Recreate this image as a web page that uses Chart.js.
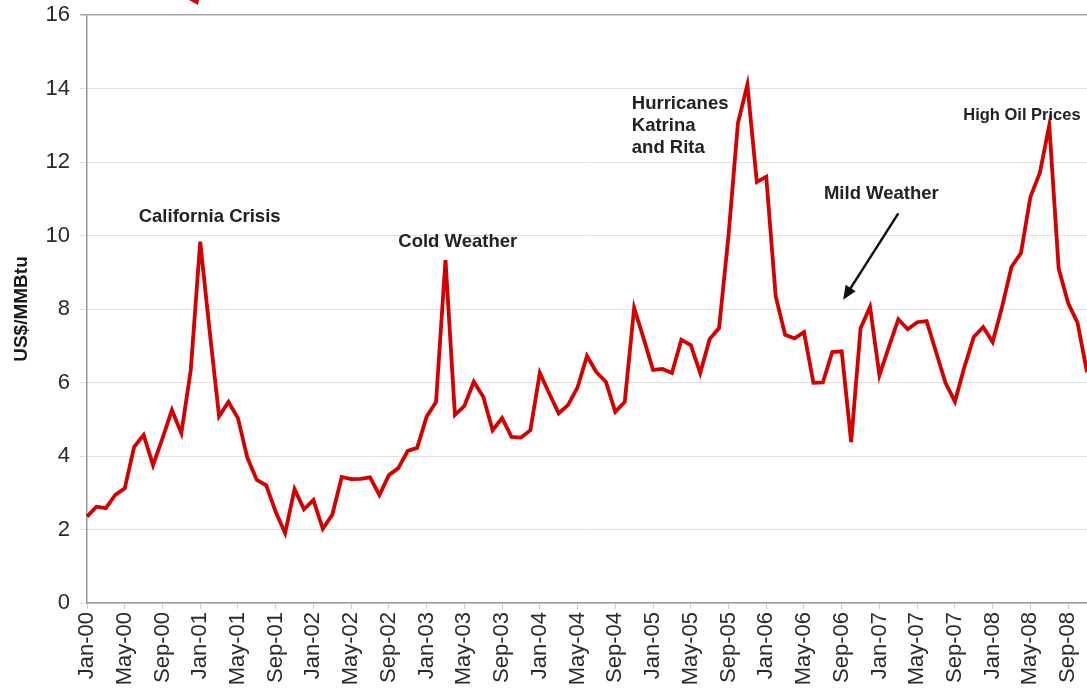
<!DOCTYPE html>
<html>
<head>
<meta charset="utf-8">
<script src="https://cdn.jsdelivr.net/npm/chart.js@4/dist/chart.umd.min.js"></script>
<style>
  html, body { margin: 0; padding: 0; background: #ffffff; }
  #wrap { width: 1087px; height: 696px; position: relative; }
</style>
</head>
<body>
<div id="wrap"><canvas id="chart"></canvas></div>
<script>
// Monthly natural gas price, Jan 2000 – Nov 2008 (US$/MMBtu)
const monthNames = ['Jan', 'Feb', 'Mar', 'Apr', 'May', 'Jun', 'Jul', 'Aug', 'Sep', 'Oct', 'Nov', 'Dec'];
const years = ['00', '01', '02', '03', '04', '05', '06', '07', '08'];

const price2000 = [2.35, 2.62, 2.58, 2.94, 3.12, 4.25, 4.57, 3.75, 4.48, 5.25, 4.62, 6.34];
const price2001 = [9.83, 7.40, 5.08, 5.47, 5.03, 3.95, 3.35, 3.20, 2.48, 1.90, 3.10, 2.55];
const price2002 = [2.80, 2.02, 2.40, 3.43, 3.37, 3.38, 3.42, 2.94, 3.48, 3.67, 4.14, 4.22];
const price2003 = [5.07, 5.47, 9.33, 5.12, 5.36, 6.02, 5.61, 4.70, 5.03, 4.52, 4.50, 4.70];
const price2004 = [6.26, 5.70, 5.16, 5.39, 5.87, 6.72, 6.28, 6.02, 5.20, 5.47, 8.03, 7.20];
const price2005 = [6.34, 6.37, 6.26, 7.16, 7.02, 6.26, 7.18, 7.48, 10.00, 13.06, 14.10, 11.46];
const price2006 = [11.60, 8.35, 7.30, 7.20, 7.37, 5.99, 6.00, 6.83, 6.85, 4.38, 7.48, 8.06];
const price2007 = [6.20, 6.97, 7.72, 7.45, 7.64, 7.67, 6.83, 5.99, 5.48, 6.42, 7.24, 7.51];
const price2008 = [7.10, 8.06, 9.15, 9.52, 11.05, 11.70, 13.00, 9.10, 8.16, 7.62, 6.28];

const yTicks = [0, 2, 4, 6, 8, 10, 12, 14, 16];
const labelEvery = 4; // a tick label every fourth month

// Event notes: [text lines, month index, price level, alignment, font size]
const notes = [
  [['California Crisis'], 13, 10.5, 'center', 18.5],
  [['Cold Weather'], 39.3, 9.82, 'center', 18.5],
  [['Hurricanes', 'Katrina', 'and Rita'], 57.75, 13.58, 'left', 18.5],
  [['Mild Weather'], 84.2, 11.13, 'center', 18.5],
  [['High Oil Prices'], 99.1, 13.28, 'center', 16.5]
];
// Arrow pointing at the autumn 2006 dip: [fromIndex, fromPrice, toIndex, toPrice]
const mildArrow = [86.0, 10.6, 80.15, 8.25];

const series = [].concat(price2000, price2001, price2002, price2003, price2004,
                         price2005, price2006, price2007, price2008);
const categories = [];
years.forEach(y => monthNames.forEach(m => categories.push(m + '-' + y)));
categories.length = series.length;

const notesPlugin = {
  id: 'eventNotes',
  afterDatasetsDraw(chart) {
    const ctx = chart.ctx;
    const xs = chart.scales.x, ys = chart.scales.y;
    ctx.save();
    ctx.fillStyle = '#222222';
    ctx.textBaseline = 'middle';
    notes.forEach(([lines, idx, val, align, size]) => {
      const px = xs.getPixelForValue(idx);
      const py = ys.getPixelForValue(val);
      ctx.font = 'bold ' + size + 'px "Liberation Sans", Arial, sans-serif';
      ctx.textAlign = align;
      lines.forEach((t, i) => ctx.fillText(t, px, py + i * 22));
    });
    // arrow
    const x1 = xs.getPixelForValue(mildArrow[0]), y1 = ys.getPixelForValue(mildArrow[1]);
    const x2 = xs.getPixelForValue(mildArrow[2]), y2 = ys.getPixelForValue(mildArrow[3]);
    const ang = Math.atan2(y2 - y1, x2 - x1);
    ctx.strokeStyle = '#111111';
    ctx.lineWidth = 2.5;
    ctx.beginPath();
    ctx.moveTo(x1, y1);
    ctx.lineTo(x2 - 8 * Math.cos(ang), y2 - 8 * Math.sin(ang));
    ctx.stroke();
    ctx.fillStyle = '#111111';
    ctx.beginPath();
    ctx.moveTo(x2, y2);
    ctx.lineTo(x2 - 14 * Math.cos(ang) + 6 * Math.sin(ang), y2 - 14 * Math.sin(ang) - 6 * Math.cos(ang));
    ctx.lineTo(x2 - 14 * Math.cos(ang) - 6 * Math.sin(ang), y2 - 14 * Math.sin(ang) + 6 * Math.cos(ang));
    ctx.closePath();
    ctx.fill();
    // small red pointer tip at the top edge
    ctx.fillStyle = '#cc0000';
    ctx.beginPath();
    ctx.moveTo(189, 0);
    ctx.lineTo(199, 0);
    ctx.lineTo(198, 5);
    ctx.closePath();
    ctx.fill();
    ctx.restore();
  }
};

// keep the plot rectangle fixed: no extra edge padding from tick labels
function noEdgePadding(scale) {
  scale.paddingTop = 0;
  scale.paddingBottom = 0;
  scale.paddingLeft = 0;
  scale.paddingRight = 0;
}

new Chart(document.getElementById('chart'), {
  type: 'line',
  data: {
    labels: categories,
    datasets: [{
      data: series,
      borderColor: '#d40000',
      borderWidth: 3.8,
      pointRadius: 0,
      tension: 0,
      fill: false,
      clip: false
    }]
  },
  options: {
    responsive: true,
    maintainAspectRatio: false,
    animation: false,
    layout: { padding: { top: 15, right: 0, left: 0, bottom: 0 } },
    plugins: { legend: { display: false }, tooltip: { enabled: false } },
    scales: {
      x: {
        type: 'category',
        offset: false,
        grid: {
          drawOnChartArea: false,
          drawTicks: true,
          tickLength: 6,
          color: '#cfcfcf'
        },
        border: { color: '#9a9a9a', width: 1.5 },
        ticks: {
          autoSkip: false,
          maxRotation: 90,
          minRotation: 90,
          padding: 3,
          color: '#2a2a2a',
          font: { family: '"Liberation Sans", Arial, sans-serif', size: 22 },
          callback: (v, i) => (i % labelEvery === 0 ? categories[i] : null)
        },
        afterFit(scale) { scale.height = 93; noEdgePadding(scale); }
      },
      y: {
        min: yTicks[0],
        max: yTicks[yTicks.length - 1],
        afterBuildTicks(scale) { scale.ticks = yTicks.map(v => ({ value: v })); },
        grid: {
          color: ctx => (ctx.tick && ctx.tick.value === 16 ? '#a8a8a8' : '#e0e0e0'),
          lineWidth: ctx => (ctx.tick && ctx.tick.value === 16 ? 1.5 : 1),
          tickLength: 7
        },
        border: { color: '#9a9a9a', width: 1.5 },
        ticks: {
          padding: 10,
          color: '#2a2a2a',
          font: { family: '"Liberation Sans", Arial, sans-serif', size: 22 }
        },
        title: {
          display: true,
          text: 'US$/MMBtu',
          color: '#1a1a1a',
          padding: { top: 10, bottom: 0 },
          font: { family: '"Liberation Sans", Arial, sans-serif', size: 19, weight: 'bold' }
        },
        afterFit(scale) { scale.width = 87; noEdgePadding(scale); }
      }
    }
  },
  plugins: [notesPlugin]
});
</script>
</body>
</html>
